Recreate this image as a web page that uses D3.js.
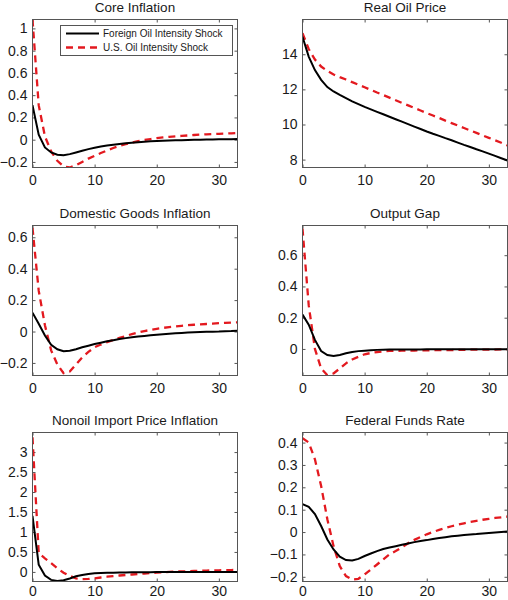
<!DOCTYPE html>
<html><head><meta charset="utf-8">
<script src="https://cdn.jsdelivr.net/npm/d3@7"></script>
<style>body{margin:0;background:#fff}svg{display:block}</style>
</head><body><svg id="chart" width="508" height="600"></svg>
<script>
const quarters = [0,1,2,3,4,5,6,7,8,9,10,11,12,13,14,15,16,17,18,19,20,21,22,23,24,25,26,27,28,29,30,31,32,33];
const seriesNames = ["Foreign Oil Intensity Shock", "U.S. Oil Intensity Shock"];
const panelTitles = ["Core Inflation", "Real Oil Price", "Domestic Goods Inflation", "Output Gap", "Nonoil Import Price Inflation", "Federal Funds Rate"];

const coreForeign = [0.31,0.045,-0.07,-0.115,-0.135,-0.14,-0.13,-0.115,-0.1,-0.085,-0.073,-0.062,-0.053,-0.045,-0.038,-0.032,-0.027,-0.022,-0.018,-0.015,-0.012,-0.0095,-0.007,-0.0055,-0.004,-0.0025,-0.001,0,0.001,0.002,0.003,0.0037,0.0044,0.005];
const coreUS = [1.08,0.31,0.03,-0.105,-0.19,-0.24,-0.25,-0.23,-0.2,-0.17,-0.145,-0.12,-0.097,-0.075,-0.055,-0.04,-0.025,-0.013,-0.003,0.006,0.014,0.02,0.025,0.03,0.034,0.038,0.042,0.045,0.048,0.05,0.053,0.055,0.057,0.06];

const oilForeign = [15.0,13.87,13.1,12.54,12.13,11.88,11.68,11.5,11.32,11.16,11.0,10.86,10.72,10.58,10.44,10.3,10.16,10.02,9.88,9.74,9.6,9.47,9.35,9.22,9.1,8.97,8.84,8.72,8.59,8.47,8.34,8.21,8.08,7.95];
const oilUS = [15.2,14.3,13.7,13.3,13.05,12.85,12.7,12.56,12.41,12.27,12.12,11.97,11.82,11.68,11.53,11.38,11.23,11.09,10.94,10.8,10.65,10.51,10.37,10.22,10.08,9.94,9.8,9.66,9.52,9.38,9.24,9.1,8.96,8.8];

const domForeign = [0.12,0.05,-0.025,-0.085,-0.113,-0.125,-0.123,-0.113,-0.1,-0.09,-0.08,-0.071,-0.062,-0.055,-0.048,-0.042,-0.037,-0.032,-0.028,-0.024,-0.02,-0.017,-0.014,-0.011,-0.009,-0.007,-0.005,-0.003,-0.002,-0.001,0,0.002,0.003,0.005];
const domUS = [0.66,0.26,0.04,-0.12,-0.21,-0.265,-0.255,-0.21,-0.165,-0.13,-0.1,-0.083,-0.068,-0.054,-0.041,-0.029,-0.016,-0.006,0.003,0.01,0.017,0.023,0.028,0.032,0.036,0.04,0.043,0.046,0.048,0.05,0.053,0.055,0.057,0.058];

const gapForeign = [0.22,0.155,0.058,-0.013,-0.039,-0.045,-0.039,-0.028,-0.019,-0.014,-0.011,-0.008,-0.006,-0.005,-0.004,-0.004,-0.003,-0.003,-0.003,-0.003,-0.002,-0.002,-0.002,-0.002,-0.002,-0.002,-0.002,-0.002,-0.002,-0.002,-0.002,-0.002,-0.002,-0.002];
const gapUS = [0.77,0.28,0.0,-0.125,-0.168,-0.157,-0.125,-0.092,-0.067,-0.05,-0.034,-0.026,-0.02,-0.016,-0.013,-0.012,-0.011,-0.01,-0.01,-0.009,-0.009,-0.008,-0.008,-0.007,-0.007,-0.006,-0.006,-0.005,-0.005,-0.004,-0.004,-0.004,-0.003,-0.003];

const importForeign = [1.4,0.18,-0.09,-0.2,-0.225,-0.21,-0.165,-0.11,-0.075,-0.05,-0.035,-0.028,-0.023,-0.019,-0.016,-0.013,-0.011,-0.009,-0.007,-0.006,-0.005,-0.004,-0.003,-0.002,-0.001,0,0,0,0,0,0,0,0,0];
const importUS = [3.37,0.47,0.34,0.22,0.09,-0.02,-0.1,-0.16,-0.18,-0.176,-0.16,-0.14,-0.12,-0.105,-0.09,-0.077,-0.065,-0.052,-0.04,-0.028,-0.017,-0.008,0.0,0.007,0.013,0.018,0.023,0.028,0.033,0.037,0.04,0.044,0.047,0.05];

const ffrForeign = [0.125,0.113,0.08,0.027,-0.033,-0.078,-0.11,-0.125,-0.127,-0.12,-0.107,-0.096,-0.085,-0.076,-0.069,-0.063,-0.057,-0.051,-0.045,-0.04,-0.036,-0.031,-0.027,-0.023,-0.019,-0.016,-0.013,-0.011,-0.009,-0.006,-0.004,-0.002,0.0,0.002];
const ffrUS = [0.42,0.4,0.325,0.206,0.057,-0.063,-0.152,-0.197,-0.212,-0.209,-0.19,-0.167,-0.145,-0.122,-0.1,-0.085,-0.069,-0.05,-0.035,-0.022,-0.01,0.0,0.01,0.018,0.026,0.033,0.039,0.045,0.05,0.055,0.059,0.063,0.066,0.069];

const xLimits = [0, 33];
const xTicks = [0, 10, 20, 30];
const yLimits = [[-0.25, 1.08], [7.55, 15.98], [-0.28, 0.675], [-0.17, 0.79], [-0.24, 3.49], [-0.221, 0.445]];
const yTicks = [
  [-0.2, 0, 0.2, 0.4, 0.6, 0.8, 1],
  [8, 10, 12, 14],
  [-0.2, 0, 0.2, 0.4, 0.6],
  [0, 0.2, 0.4, 0.6],
  [0, 0.5, 1, 1.5, 2, 2.5, 3],
  [-0.2, -0.1, 0, 0.1, 0.2, 0.3, 0.4]
];
const yTickLabels = [
  ["\u22120.2", "0", "0.2", "0.4", "0.6", "0.8", "1"],
  ["8", "10", "12", "14"],
  ["\u22120.2", "0", "0.2", "0.4", "0.6"],
  ["0", "0.2", "0.4", "0.6"],
  ["0", "0.5", "1", "1.5", "2", "2.5", "3"],
  ["\u22120.2", "\u22120.1", "0", "0.1", "0.2", "0.3", "0.4"]
];
const foreignSeries = [coreForeign, oilForeign, domForeign, gapForeign, importForeign, ffrForeign];
const usSeries = [coreUS, oilUS, domUS, gapUS, importUS, ffrUS];

// layout
const colLeft = [32.5, 302.5];
const plotW = 205;
const rowTop = [19.5, 225.5, 432.5];
const rowBottom = [167.5, 375.5, 581.5];
const rowPad = [7.5, 7.5, 5];
const frameColor = "#555";
const textColor = "#1a1a1a";
const redColor = "#e3191f";
const fontFam = "'Liberation Sans', Arial, Helvetica, sans-serif";

const svg = d3.select("#chart");
svg.append("rect").attr("width", 508).attr("height", 600).attr("fill", "#fff");

panelTitles.forEach((title, i) => {
  const c = i % 2, r = Math.floor(i / 2);
  const x0 = colLeft[c], x1 = x0 + plotW, y0 = rowTop[r], y1 = rowBottom[r];
  const x = d3.scaleLinear().domain(xLimits).range([x0, x1]);
  const y = d3.scaleLinear().domain(yLimits[i]).range([y1, y0]);
  const g = svg.append("g");

  g.append("clipPath").attr("id", "clip" + i)
    .append("rect").attr("x", x0).attr("y", y0).attr("width", x1 - x0).attr("height", y1 - y0);

  const tl = 3;
  const bottomAxis = d3.axisBottom(x).tickValues(xTicks).tickSize(-tl).tickPadding(rowPad[r]).tickFormat(d3.format("d"));
  const topAxis = d3.axisTop(x).tickValues(xTicks).tickSize(-tl).tickFormat("");
  const leftAxis = d3.axisLeft(y).tickValues(yTicks[i]).tickSize(-tl).tickPadding(5).tickFormat((d, k) => yTickLabels[i][k]);
  const rightAxis = d3.axisRight(y).tickValues(yTicks[i]).tickSize(-tl).tickFormat("");

  const styleAxis = sel => {
    sel.select(".domain").remove();
    sel.selectAll("line").attr("stroke", frameColor).attr("stroke-width", 1);
    sel.selectAll("text").attr("fill", textColor).style("font-family", fontFam)
      .style("font-size", "14px");
  };
  g.append("g").attr("transform", `translate(0,${y1})`).call(bottomAxis).call(styleAxis);
  g.append("g").attr("transform", `translate(0,${y0})`).call(topAxis).call(styleAxis);
  g.append("g").attr("transform", `translate(${x0},0)`).call(leftAxis).call(styleAxis);
  g.append("g").attr("transform", `translate(${x1},0)`).call(rightAxis).call(styleAxis);

  const line = d3.line().x((d, k) => x(quarters[k])).y(d => y(d));
  const lines = g.append("g").attr("clip-path", `url(#clip${i})`);
  lines.append("path").datum(usSeries[i]).attr("d", line)
    .attr("fill", "none").attr("stroke", redColor).attr("stroke-width", 2.3)
    .attr("stroke-dasharray", "7,5");
  lines.append("path").datum(foreignSeries[i]).attr("d", line)
    .attr("fill", "none").attr("stroke", "#000").attr("stroke-width", 2);

  g.append("rect").attr("x", x0).attr("y", y0).attr("width", x1 - x0).attr("height", y1 - y0)
    .attr("fill", "none").attr("stroke", frameColor).attr("stroke-width", 1);

  g.append("text").attr("x", (x0 + x1) / 2).attr("y", y0 - 8)
    .attr("text-anchor", "middle").attr("fill", textColor)
    .style("font-family", fontFam).style("font-size", "13.5px").text(title);
});

// legend in first panel
const lg = svg.append("g");
lg.append("rect").attr("x", 60.5).attr("y", 25.5).attr("width", 172).attr("height", 30)
  .attr("fill", "#fff").attr("stroke", frameColor).attr("stroke-width", 1);
const legendRows = [
  { name: seriesNames[0], color: "#000", dash: null, w: 2 },
  { name: seriesNames[1], color: redColor, dash: "7,5", w: 2.3 }
];
legendRows.forEach((d, k) => {
  const yy = 33.5 + k * 14;
  lg.append("line").attr("x1", 66).attr("x2", 99).attr("y1", yy).attr("y2", yy)
    .attr("stroke", d.color).attr("stroke-width", d.w).attr("stroke-dasharray", d.dash);
  lg.append("text").attr("x", 103).attr("y", yy + 3.5).attr("fill", textColor)
    .style("font-family", fontFam).style("font-size", "10px").text(d.name);
});
</script>
</body></html>
